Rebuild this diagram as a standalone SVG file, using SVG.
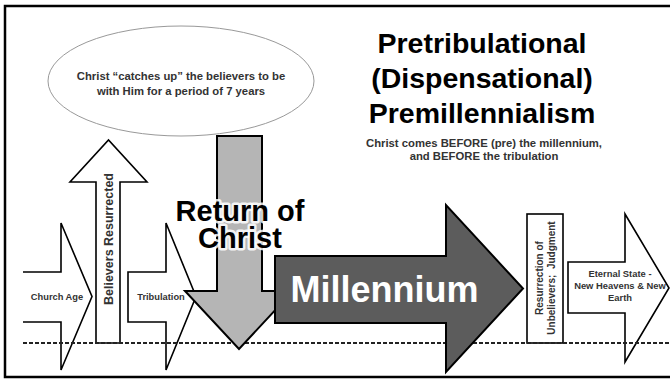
<svg xmlns="http://www.w3.org/2000/svg" width="670" height="380" viewBox="0 0 670 380">
  <style>
    .frame { fill: none; stroke: #000; stroke-width: 2.5; }
    .wa { fill: #fff; stroke: #000; stroke-width: 1.6; stroke-linejoin: miter; }
    .lbl { font-family: "Liberation Sans", Arial, sans-serif; font-weight: bold; fill: #333; text-anchor: middle; }
    .title { font-family: "Liberation Sans", Arial, sans-serif; font-weight: bold; fill: #000; text-anchor: middle; }
    .dash { stroke: #222; stroke-width: 2; stroke-dasharray: 4 2; fill: none; }
  </style>
  <rect width="670" height="380" fill="#fff"/>
  <rect class="frame" x="5" y="6" width="700" height="371"/>

  <g id="title">
    <text class="title" x="482" y="53" font-size="28.5">Pretribulational</text>
    <text class="title" x="482" y="88" font-size="28.5">(Dispensational)</text>
    <text class="title" x="482" y="123" font-size="28.5">Premillennialism</text>
    <text class="lbl" x="484" y="147" font-size="11.3" fill="#222">Christ comes BEFORE (pre) the millennium,</text>
    <text class="lbl" x="484" y="160" font-size="11.3" fill="#222">and BEFORE the tribulation</text>
  </g>

  <g id="rapture">
    <ellipse cx="181" cy="81" rx="133" ry="55" fill="#fff" stroke="#999" stroke-width="1"/>
    <text class="lbl" x="181" y="80" font-size="11.3" fill="#222">Christ “catches up” the believers to be</text>
    <text class="lbl" x="181" y="95" font-size="11.3" fill="#222">with Him for a period of 7 years</text>
  </g>

  <g id="church-age">
    <path class="wa" d="M23,272 H61 V223 L92,296.5 L61,370 V322 H23"/>
    <text class="lbl" x="57" y="299.5" font-size="9.3">Church Age</text>
  </g>

  <g id="believers-resurrected">
    <polygon class="wa" points="96,343 96,182 70,182 108.5,140 147,182 120,182 120,343"/>
    <text class="lbl" font-size="12.5" transform="translate(113,239) rotate(-90)">Believers Resurrected</text>
  </g>

  <g id="tribulation">
    <polygon class="wa" points="128,272 166,272 166,223 196,296.5 166,370 166,322 128,322"/>
    <text class="lbl" x="161" y="299.5" font-size="9.3">Tribulation</text>
  </g>

  <g id="resurrection-unbelievers">
    <rect class="wa" x="527" y="214" width="36" height="129"/>
    <text class="lbl" font-size="10" style="white-space:pre" transform="translate(543,278) rotate(-90)">Resurrection of</text>
    <text class="lbl" font-size="10" style="white-space:pre" transform="translate(555,278) rotate(-90)">Unbelievers;  Judgment</text>
  </g>

  <g id="eternal-state">
    <polygon class="wa" points="568,262 625,262 625,214 669,288 625,362 625,313 568,313"/>
    <text class="lbl" x="620" y="277" font-size="9.4">Eternal State -</text>
    <text class="lbl" x="620" y="289" font-size="9.4">New Heavens &amp; New</text>
    <text class="lbl" x="620" y="301" font-size="9.4">Earth</text>
  </g>

  <g id="connectors">
    <line class="dash" x1="23" y1="343" x2="670" y2="343"/>
  </g>

  <g id="return-of-christ">
    <polygon points="217,136 262,136 262,291 293,291 239,349 185,291 217,291" fill="#b5b5b5" stroke="#000" stroke-width="2"/>
  </g>

  <g id="millennium">
    <polygon points="275,256 446,256 446,205 523,288.5 446,372 446,323 275,323" fill="#5c5c5c" stroke="#000" stroke-width="2"/>
    <text x="384.5" y="302" font-family="Liberation Sans, Arial, sans-serif" font-weight="bold" font-size="36" fill="#fff" text-anchor="middle">Millennium</text>
  </g>

  <g id="return-label">
    <text class="title" font-size="29" stroke="#fff" stroke-opacity="0.85" stroke-width="5" stroke-linejoin="round" paint-order="stroke"><tspan x="240" y="221">Return of</tspan><tspan x="240" y="248">Christ</tspan></text>
  </g>
</svg>
